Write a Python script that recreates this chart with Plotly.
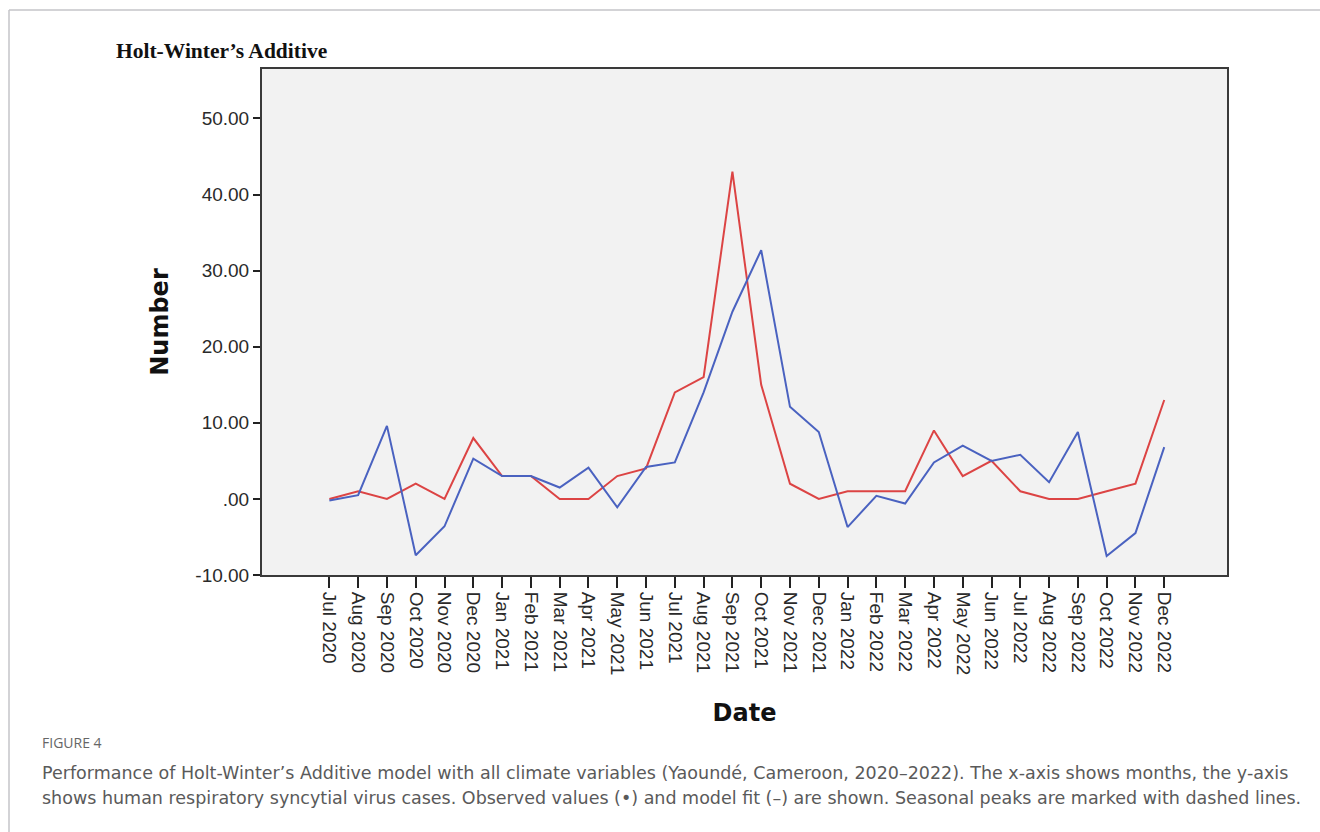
import plotly.graph_objects as go

# Monthly RSV case counts, Yaoundé, Jul 2020 - Dec 2022
months = [
    "Jul 2020", "Aug 2020", "Sep 2020", "Oct 2020", "Nov 2020", "Dec 2020",
    "Jan 2021", "Feb 2021", "Mar 2021", "Apr 2021", "May 2021", "Jun 2021",
    "Jul 2021", "Aug 2021", "Sep 2021", "Oct 2021", "Nov 2021", "Dec 2021",
    "Jan 2022", "Feb 2022", "Mar 2022", "Apr 2022", "May 2022", "Jun 2022",
    "Jul 2022", "Aug 2022", "Sep 2022", "Oct 2022", "Nov 2022", "Dec 2022",
]
observed = [0, 1, 0, 2, 0, 8, 3, 3, 0, 0, 3, 4,
            14, 16, 43, 15, 2, 0, 1, 1, 1, 9, 3, 5,
            1, 0, 0, 1, 2, 13]
fitted = [-0.2, 0.5, 9.6, -7.4, -3.6, 5.3, 3.0, 3.0, 1.5, 4.1, -1.1, 4.2,
          4.8, 14.0, 24.6, 32.7, 12.1, 8.8, -3.7, 0.4, -0.6, 4.8, 7.0, 5.0,
          5.8, 2.2, 8.8, -7.5, -4.5, 6.8]

y_ticks = [-10, 0, 10, 20, 30, 40, 50]


def fmt(v):
    s = f"{v:.2f}"
    return s.replace("0.00", ".00") if v == 0 else s


y_labels = [fmt(v) for v in y_ticks]

W, H = 1320, 832
L, R, T, B = 262, 1227, 69, 575
pw, ph = R - L, B - T


def px(x):
    return (x - L) / pw


def py(y):
    return (B - y) / ph


fig = go.Figure()
fig.add_trace(go.Scatter(x=months, y=observed, mode="lines", name="Observed",
                         line=dict(color="#dc4444", width=2)))
fig.add_trace(go.Scatter(x=months, y=fitted, mode="lines", name="Fit",
                         line=dict(color="#4a62c0", width=2)))

axis_font = dict(family="Liberation Sans, Arial, sans-serif", size=19, color="#2a2a2a")
title_font = dict(family="DejaVu Sans, sans-serif", size=24, color="#111")
caption_font = dict(family="DejaVu Sans, sans-serif", size=17.5, color="#5a5a5a")

fig.update_layout(
    width=W, height=H,
    margin=dict(l=L, r=W - R, t=T, b=H - B, pad=0),
    paper_bgcolor="white",
    plot_bgcolor="#f2f2f2",
    showlegend=False,
    xaxis=dict(
        type="category", range=[-2.34, 31.18],
        showgrid=False, zeroline=False,
        showline=True, linecolor="#3a3a3a", linewidth=2, mirror=True,
        ticks="outside", ticklen=11, tickwidth=1.5, tickcolor="#222",
        tickangle=90, tickfont=axis_font,
        title=dict(text="<b>Date</b>", font=title_font, standoff=30),
    ),
    yaxis=dict(
        range=[-10, 56.5],
        tickvals=y_ticks, ticktext=y_labels,
        showgrid=False, zeroline=False,
        showline=True, linecolor="#3a3a3a", linewidth=2, mirror=True,
        ticks="outside", ticklen=7, tickwidth=1.5, tickcolor="#222",
        tickfont=axis_font,
        title=dict(text="<b>Number</b>", font=title_font, standoff=20),
    ),
    shapes=[
        # outer panel frame
        dict(type="line", xref="paper", yref="paper",
             x0=px(9), x1=px(1320), y0=py(10), y1=py(10),
             line=dict(color="#c4c4c8", width=1.5)),
        dict(type="line", xref="paper", yref="paper",
             x0=px(9), x1=px(9), y0=py(10), y1=py(832),
             line=dict(color="#c4c4c8", width=1.5)),
    ],
    annotations=[
        dict(text="<b>Holt-Winter’s Additive</b>", xref="paper", yref="paper",
             x=px(114), y=py(51), xanchor="left", yanchor="middle", showarrow=False,
             font=dict(family="Liberation Serif, Times New Roman, serif", size=21.5, color="#111")),
        dict(text="FIGURE 4", xref="paper", yref="paper",
             x=px(40), y=py(742), xanchor="left", yanchor="middle", showarrow=False,
             font=dict(family="Open Sans, sans-serif", size=14, color="#666")),
        dict(text="Performance of Holt-Winter’s Additive model with all climate variables (Yaoundé, Cameroon, 2020–2022). "
                  "The x-axis shows months, the y-axis",
             xref="paper", yref="paper",
             x=px(40), y=py(773), xanchor="left", yanchor="middle", showarrow=False,
             font=caption_font),
        dict(text="shows human respiratory syncytial virus cases. Observed values (•) and model fit (–) are shown. "
                  "Seasonal peaks are marked with dashed lines.",
             xref="paper", yref="paper",
             x=px(40), y=py(798), xanchor="left", yanchor="middle", showarrow=False,
             font=caption_font),
    ],
)

fig.write_html("out.html")
